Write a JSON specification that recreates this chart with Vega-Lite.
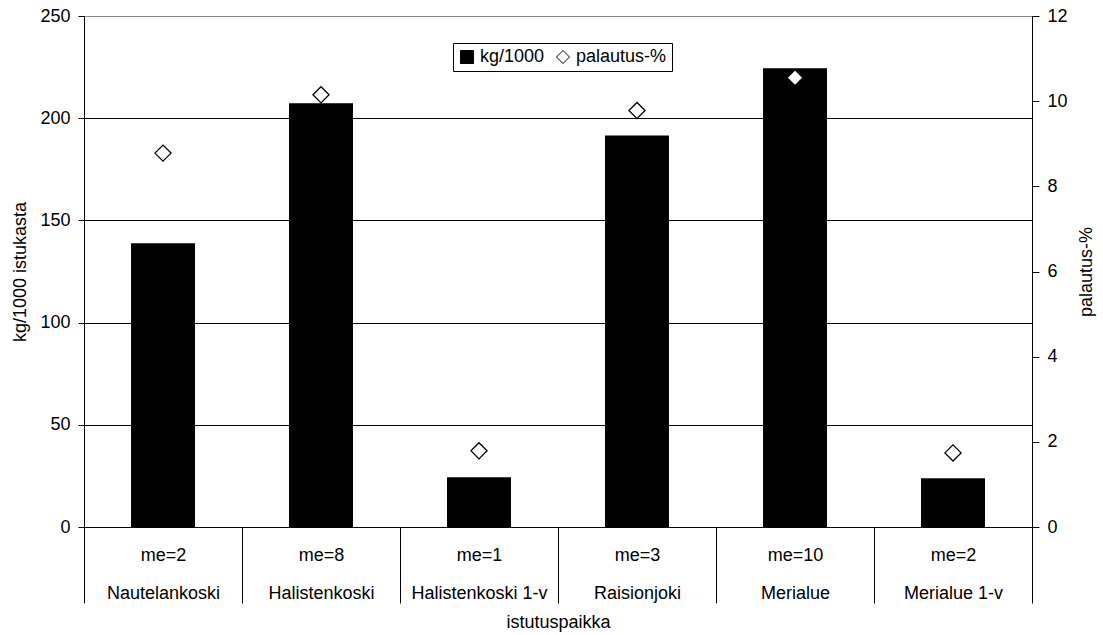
{
  "$schema": "https://vega.github.io/schema/vega-lite/v6.json",
  "width": 948,
  "height": 511,
  "autosize": {"type": "none"},
  "padding": {"left": 84, "top": 16, "right": 71, "bottom": 108},
  "background": "white",
  "config": {
    "font": "Liberation Sans",
    "view": {"stroke": "#888888", "strokeWidth": 1},
    "axis": {
      "labelFont": "Liberation Sans",
      "titleFont": "Liberation Sans",
      "labelFontSize": 18,
      "titleFontSize": 18,
      "titleFontWeight": "normal",
      "labelColor": "black",
      "titleColor": "black",
      "domainColor": "black",
      "tickColor": "black",
      "domainWidth": 1,
      "tickWidth": 1
    }
  },
  "data": {
    "values": [
      {"paikka": "Nautelankoski", "akseli": "me=2|Nautelankoski", "kg": 138.8, "pct": 8.78},
      {"paikka": "Halistenkoski", "akseli": "me=8|Halistenkoski", "kg": 207.3, "pct": 10.15},
      {"paikka": "Halistenkoski 1-v", "akseli": "me=1|Halistenkoski 1-v", "kg": 24.3, "pct": 1.79},
      {"paikka": "Raisionjoki", "akseli": "me=3|Raisionjoki", "kg": 191.5, "pct": 9.78},
      {"paikka": "Merialue", "akseli": "me=10|Merialue", "kg": 224.4, "pct": 10.55},
      {"paikka": "Merialue 1-v", "akseli": "me=2|Merialue 1-v", "kg": 23.8, "pct": 1.74}
    ]
  },
  "encoding": {
    "x": {
      "field": "akseli",
      "type": "nominal",
      "sort": null,
      "scale": {"paddingInner": 0, "paddingOuter": 0},
      "axis": {
        "title": "istutuspaikka",
        "labelExpr": "split(datum.label, '|')",
        "labelAngle": 0,
        "tickBand": "extent",
        "tickSize": 76,
        "labelPadding": -43,
        "labelBaseline": "alphabetic",
        "labelLineHeight": 38,
        "labelOverlap": false,
        "titlePadding": 10
      }
    }
  },
  "layer": [
    {
      "mark": {"type": "bar", "width": {"band": 0.405}},
      "encoding": {
        "y": {
          "field": "kg",
          "type": "quantitative",
          "scale": {"domain": [0, 250]},
          "axis": {
            "title": "kg/1000 istukasta",
            "values": [0, 50, 100, 150, 200, 250],
            "grid": true,
            "gridColor": {"condition": {"test": "datum.value === 250", "value": "#888888"}, "value": "black"},
            "gridWidth": 1,
            "gridOpacity": 1,
            "tickSize": 6,
            "labelPadding": 8,
            "titlePadding": 10
          }
        },
        "color": {
          "datum": "kg/1000",
          "scale": {"domain": ["kg/1000", "palautus-%"], "range": ["black", "white"]},
          "legend": {
            "title": null,
            "orient": "none",
            "legendX": 369,
            "legendY": 27,
            "direction": "horizontal",
            "padding": 5,
            "strokeColor": "black",
            "fillColor": "white",
            "labelFont": "Liberation Sans",
            "labelFontSize": 18,
            "labelColor": "black",
            "symbolSize": 169,
            "symbolStrokeColor": "black",
            "symbolStrokeWidth": 1,
            "labelOffset": 4,
            "columnPadding": 9,
            "encode": {
              "symbols": {
                "update": {
                  "shape": {"signal": "datum.value === 'kg/1000' ? 'square' : 'diamond'"},
                  "stroke": {"value": "black"}
                }
              }
            }
          }
        }
      }
    },
    {
      "mark": {"type": "point", "shape": "diamond", "filled": true, "stroke": "black", "strokeWidth": 1.3, "size": 260, "opacity": 1},
      "encoding": {
        "y": {
          "field": "pct",
          "type": "quantitative",
          "scale": {"domain": [0, 12]},
          "axis": {
            "title": "palautus-%",
            "orient": "right",
            "values": [0, 2, 4, 6, 8, 10, 12],
            "grid": false,
            "tickSize": 7,
            "labelPadding": 8,
            "titleAngle": -90,
            "titleBaseline": "top",
            "titlePadding": 10
          }
        },
        "color": {"datum": "palautus-%"}
      }
    }
  ],
  "resolve": {"scale": {"y": "independent"}}
}
